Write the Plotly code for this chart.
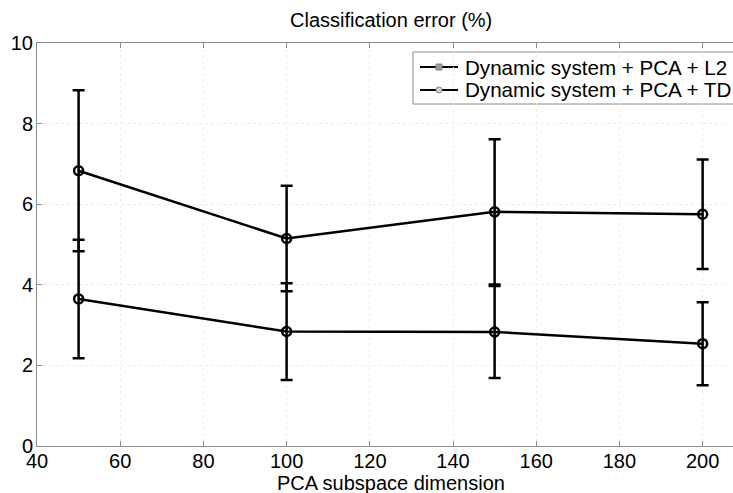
import plotly.graph_objects as go

dims = [50, 100, 150, 200]
err_l2 = [6.83, 5.15, 5.81, 5.75]
err_l2_sd = [2.0, 1.31, 1.8, 1.36]
err_td = [3.65, 2.84, 2.83, 2.54]
err_td_sd = [1.47, 1.2, 1.14, 1.03]
names = ["Dynamic system + PCA + L2", "Dynamic system + PCA + TD"]
x_ticks = [40, 60, 80, 100, 120, 140, 160, 180, 200]
y_ticks = [0, 2, 4, 6, 8, 10]

FONT = "Liberation Sans, Arial, sans-serif"
fig = go.Figure()

for ys, sd, nm in [(err_l2, err_l2_sd, names[0]), (err_td, err_td_sd, names[1])]:
    fig.add_trace(go.Scatter(
        x=dims, y=ys, mode="lines+markers", showlegend=False, name=nm,
        line=dict(color="black", width=2.5),
        marker=dict(symbol="circle-open", size=9, color="black", line=dict(width=2.5)),
        error_y=dict(type="data", array=sd, visible=True, color="black", thickness=2.5, width=6),
        cliponaxis=False,
    ))

axis_common = dict(
    showline=True, linecolor="#8c8c8c", linewidth=1,
    ticks="inside", ticklen=5, tickcolor="#8c8c8c", tickwidth=1,
    showgrid=True, gridcolor="#ededed", griddash="dot", gridwidth=1,
    zeroline=False, tickfont=dict(family=FONT, size=20, color="black"),
)

fig.update_xaxes(range=[40, 207.3], tickvals=x_ticks, mirror="ticks", ticklabelstandoff=-3,
                 **axis_common)
fig.update_yaxes(range=[0, 10], tickvals=y_ticks, ticklabelstandoff=-1, **axis_common)

fig.add_annotation(text="Classification error (%)", x=125, xref="x", y=1, yref="paper",
                   yanchor="bottom", yshift=10, showarrow=False,
                   font=dict(family=FONT, size=20, color="black"))
fig.add_annotation(text="PCA subspace dimension", x=125, xref="x", y=0, yref="paper",
                   yanchor="top", yshift=-24, showarrow=False,
                   font=dict(family=FONT, size=20, color="black"))

# manual legend (paper coordinates)
lx0, lx1, ly0, ly1 = 0.5402, 1.05, 0.8486, 0.9777
fig.add_shape(type="rect", xref="paper", yref="paper", x0=lx0, x1=lx1, y0=ly0, y1=ly1,
              line=dict(color="#8c8c8c", width=1), fillcolor="white", layer="between")
rows = [0.9404, 0.8834]
symbols = ["square", "circle"]
fills = ["#9a9a9a", "#d0d0d0"]
for nm, ry in zip(names, rows):
    fig.add_shape(type="line", xref="paper", yref="paper", x0=0.5503, x1=0.6049, y0=ry, y1=ry,
                  line=dict(color="black", width=2), layer="between")
    fig.add_annotation(text=nm, xref="paper", yref="paper", x=0.6121, y=ry, xanchor="left",
                       yanchor="middle", showarrow=False,
                       font=dict(family=FONT, size=20.6, color="black"))

# legend markers on a hidden overlay axis
fig.add_trace(go.Scatter(
    x=[0.5776, 0.5776], y=rows, xaxis="x2", yaxis="y2", mode="markers", showlegend=False,
    hoverinfo="skip",
    marker=dict(symbol=symbols, size=6, color=fills, line=dict(color="#888888", width=1)),
))

fig.update_layout(
    width=733, height=493,
    margin=dict(l=37, r=0, t=43, b=47),
    paper_bgcolor="white", plot_bgcolor="white",
    font=dict(family=FONT, size=20, color="black"),
    showlegend=False,
    xaxis2=dict(overlaying="x", range=[0, 1], visible=False),
    yaxis2=dict(overlaying="y", range=[0, 1], visible=False),
)

fig.write_html("out.html", config={"displayModeBar": False},
               post_script="document.body.style.margin='0';")
